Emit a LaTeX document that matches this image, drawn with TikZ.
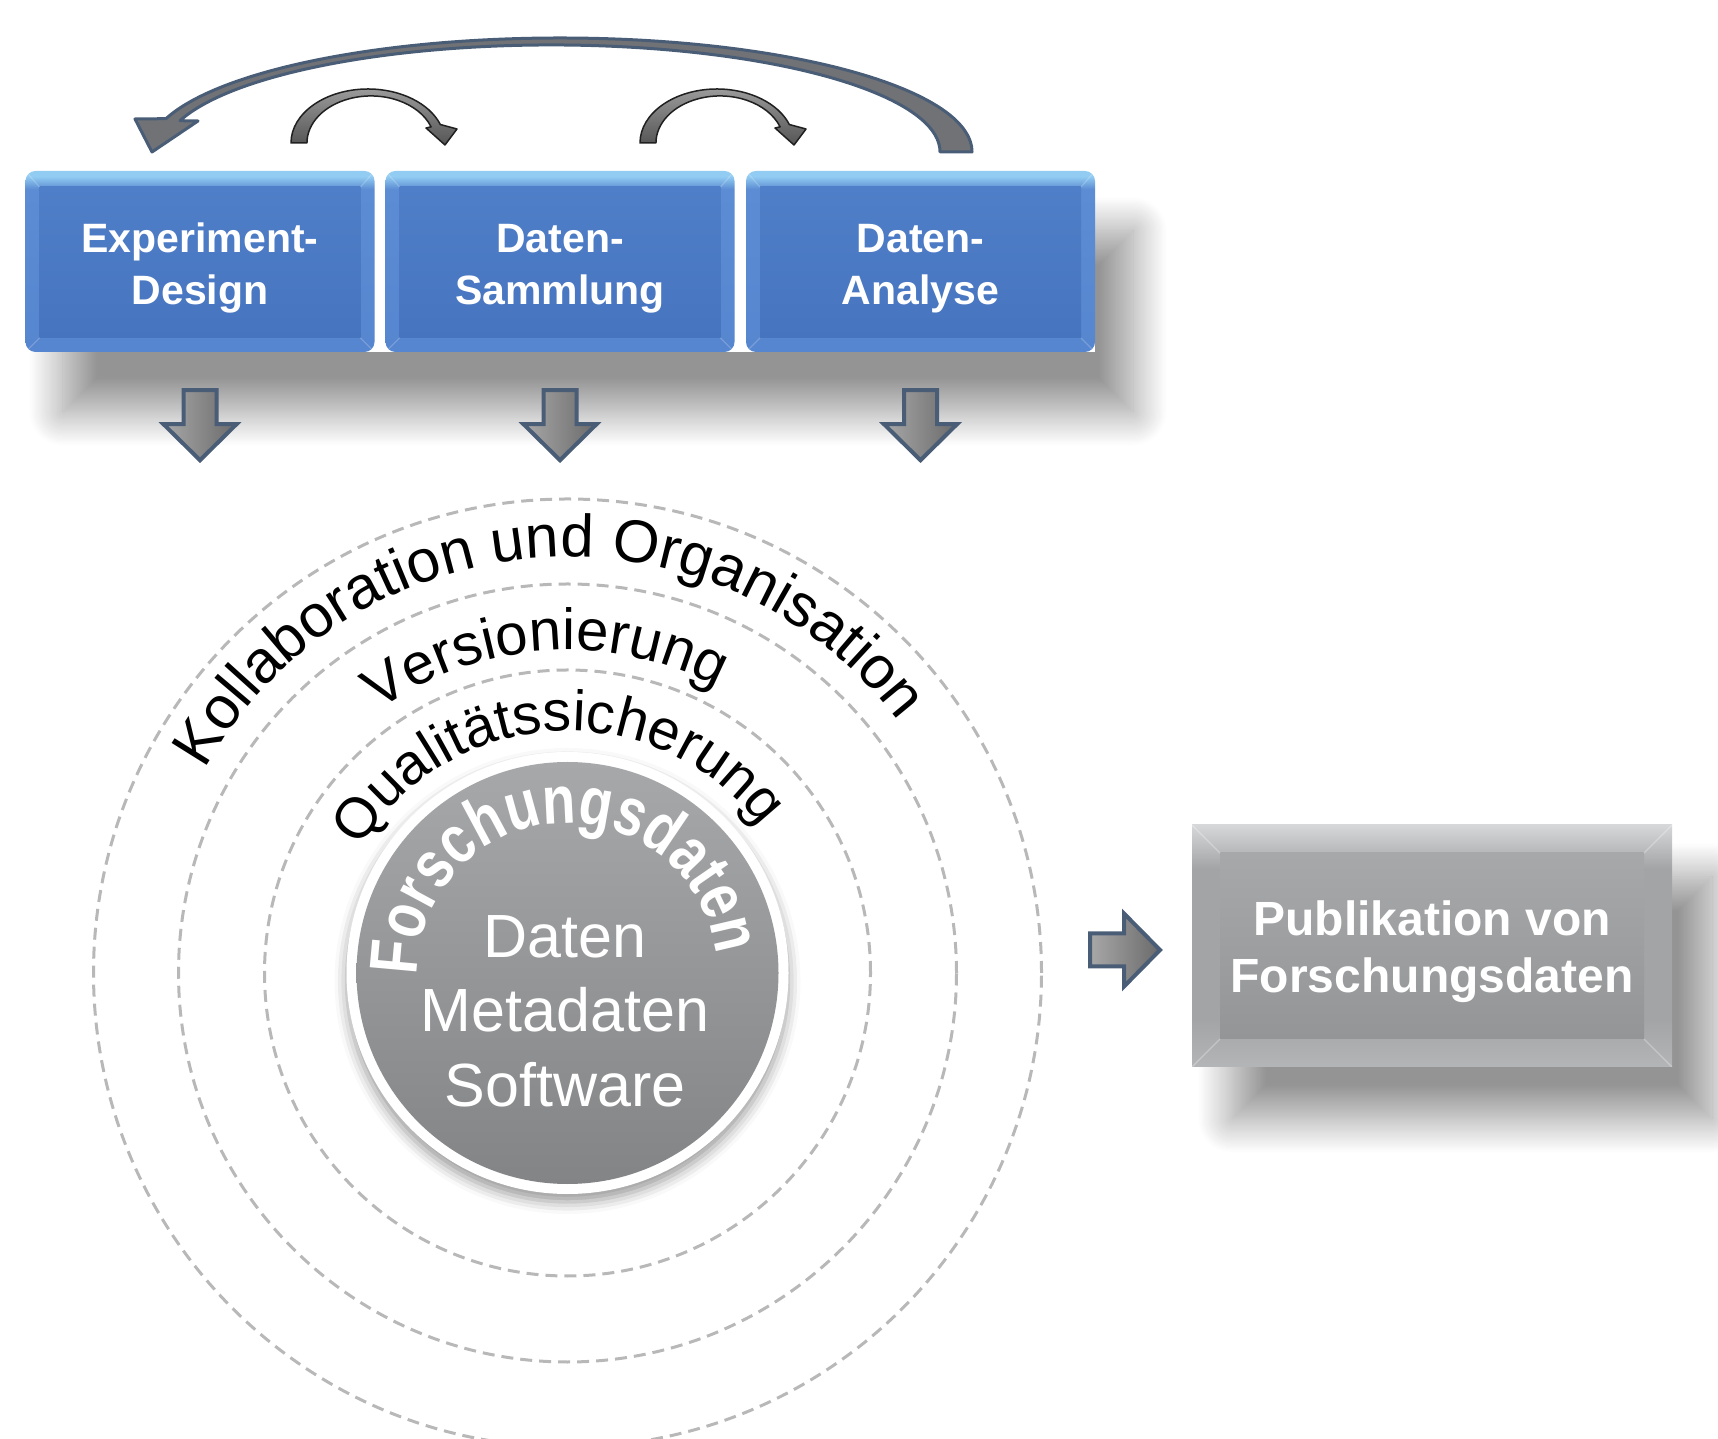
\documentclass[tikz,border=0pt]{standalone}
\usepackage{fontspec}
\setmainfont{Liberation Sans}
\newfontfamily\forfam[FakeStretch=0.8]{Liberation Sans}
\usetikzlibrary{shadows.blur,decorations.text,calc}

\definecolor{slate}{HTML}{4A5D77}
\definecolor{bluelow}{HTML}{5686CF}
\definecolor{bluebev}{HTML}{5C8CD3}
\definecolor{bluehi}{HTML}{92CCF2}
\definecolor{facetop}{HTML}{5080C9}
\definecolor{facebot}{HTML}{4673BE}
\definecolor{greylow}{HTML}{B4B5B7}
\definecolor{greymid}{HTML}{A2A4A6}
\definecolor{greybev}{HTML}{C0C1C3}
\definecolor{greyhi}{HTML}{D6D7D9}
\definecolor{gfacetop}{HTML}{A9ABAD}
\definecolor{gfacebot}{HTML}{909294}
\definecolor{dashgrey}{HTML}{B8B8B8}
\definecolor{disktop}{HTML}{A7A8AA}
\definecolor{diskbot}{HTML}{838486}
\definecolor{arrlight}{HTML}{A8A8A8}
\definecolor{arrdark}{HTML}{6A6A6A}
\definecolor{bigfill}{HTML}{707276}
\definecolor{smalltop}{HTML}{9A9A9A}
\definecolor{smallbot}{HTML}{555555}
\definecolor{smallline}{HTML}{202020}

\pgfdeclareverticalshading{bluebevel}{100bp}{color(0bp)=(bluelow); color(25bp)=(bluelow); color(70bp)=(bluebev); color(73.5bp)=(bluehi); color(75bp)=(bluehi); color(100bp)=(bluehi)}
\pgfdeclareverticalshading{blueface}{100bp}{color(0bp)=(facebot); color(25bp)=(facebot); color(75bp)=(facetop); color(100bp)=(facetop)}
\pgfdeclareverticalshading{greybevel}{100bp}{color(0bp)=(greylow); color(25bp)=(greylow); color(35bp)=(greymid); color(66bp)=(greymid); color(71bp)=(greybev); color(75bp)=(greyhi); color(100bp)=(greyhi)}
\pgfdeclareverticalshading{greyface}{100bp}{color(0bp)=(gfacebot); color(25bp)=(gfacebot); color(75bp)=(gfacetop); color(100bp)=(gfacetop)}

\newcommand\kolfont{\fontsize{60}{64}\selectfont}
\newcommand\verfont{\fontsize{58}{62}\selectfont}
\newcommand\qualfont{\fontsize{57}{61}\selectfont}
\newcommand\forfont{\color{white}\forfam\bfseries\fontsize{68}{72}\selectfont}

\begin{document}
\begin{tikzpicture}[x=1pt,y=1pt,
  bluebox/.style={rectangle, rounded corners=10, minimum width=349, minimum height=181,
    inner sep=0, shade, shading=bluebevel, text=white, align=center,
    font=\bfseries\fontsize{41}{52}\selectfont,
    path picture={
      \shade[shading=blueface, sharp corners]
        ([shift={(14,-16)}]path picture bounding box.north west) rectangle
        ([shift={(-14,14)}]path picture bounding box.south east);
      \foreach \a/\dx/\dy in {north west/14/-16, north east/-14/-16, south west/14/14, south east/-14/14}
        \draw[white, opacity=.2, line width=1.2, sharp corners] (path picture bounding box.\a) -- ++(\dx,\dy);
    }},
  greybox/.style={rectangle, minimum width=480, minimum height=242,
    inner sep=0, shade, shading=greybevel, text=white, align=center,
    font=\bfseries\fontsize{48}{57}\selectfont,
    path picture={
      \shade[shading=greyface]
        ([shift={(28,-28)}]path picture bounding box.north west) rectangle
        ([shift={(-28,28)}]path picture bounding box.south east);
      \foreach \a/\dx/\dy in {north west/28/-28, north east/-28/-28, south west/28/28, south east/-28/28}
        \draw[white, opacity=.3, line width=1.2] (path picture bounding box.\a) -- ++(\dx,\dy);
    }},
  dashcirc/.style={draw=dashgrey, line width=3, dash pattern=on 12pt off 7pt},
  blockarrow/.style={draw=slate, line width=4, line join=miter, left color=arrlight, right color=arrdark},
  bigarr/.style={draw=slate, line width=3, fill=bigfill, line join=round},
  smallarr/.style={draw=smallline, line width=1.5, top color=smalltop, bottom color=smallbot, line join=round},
  downarr/.pic={\path[blockarrow] (-16.5,0) -- (16.5,0) -- (16.5,-34) -- (36.5,-34) -- (0,-70) -- (-36.5,-34) -- (-16.5,-34) -- cycle;},
  smallcurve/.pic={\path[smallarr] (-77,0) arc[start angle=180, end angle=20, x radius=77, y radius=54]
      -- (89,14) -- (77,-2) -- (58,15) -- (63.1,16.1)
      arc[start angle=20, end angle=180, x radius=64, y radius=47] -- cycle;}
]
\useasboundingbox (0,0) rectangle (1718,1438);
\clip (0,0) rectangle (1718,1438);

% ---------- shadow under the row of boxes
\fill[white, blur shadow={shadow xshift=38pt, shadow yshift=-60pt, shadow blur radius=34pt, shadow opacity=42, shadow blur steps=30}]
  (25,1086) rectangle (1095,1267);

% ---------- process boxes
\node[bluebox] (ed) at (200,1176.5) {\rule{0pt}{42pt}Experiment-\\Design};
\node[bluebox] (ds) at (560,1176.5) {\rule{0pt}{42pt}Daten-\\Sammlung};
\node[bluebox] (da) at (920.5,1176.5) {\rule{0pt}{42pt}Daten-\\Analyse};

% ---------- curved arrows above
\path[bigarr] (972,1286) arc[start angle=0, end angle=163, x radius=412, y radius=114]
  -- (135,1319) -- (152,1286) -- (198,1317) -- (180.0,1317.3)
  arc[start angle=163, end angle=0, x radius=388.5, y radius=107] -- cycle;
\pic at (368,1295) {smallcurve};
\pic at (717,1295) {smallcurve};

% ---------- down arrows
\pic at ($(ed.south)+(0,-38)$) {downarr};
\pic at ($(ds.south)+(0,-38)$) {downarr};
\pic at ($(da.south)+(0,-38)$) {downarr};

% ---------- concentric rings
\coordinate (C) at (567.5,465);
\draw[dashcirc] (C) circle[radius=474];
\draw[dashcirc] (C) circle[radius=389];
\draw[dashcirc] (C) circle[radius=303];

% ---------- central disk
\fill[white, blur shadow={shadow xshift=0pt, shadow yshift=-8pt, shadow blur radius=12pt, shadow opacity=40}]
  (C) circle[radius=221];
\shade[top color=disktop, bottom color=diskbot] (C) circle[radius=211];

% ---------- curved texts
\path[decorate, decoration={text along path, text align=center,
  text={|\kolfont|Kollaboration und Organisation}}]
  ($(C)+(194:416)$) arc[start angle=194, end angle=-6, radius=416];
\path[decorate, decoration={text along path, text align=center,
  text={|\verfont|Versionierung}}]
  ($(C)+(194:323)$) arc[start angle=194, end angle=-6, radius=323];
\path[decorate, decoration={text along path, text align=center,
  text={|\qualfont|Qualitätssicherung}}]
  ($(C)+(193:242)$) arc[start angle=193, end angle=-7, radius=242];
\path[decorate, decoration={text along path, text align=center,
  text={|\forfont|Forschungsdaten}}]
  ($(C)+(194:150)$) arc[start angle=194, end angle=-6, radius=150];

\node[font=\fontsize{61}{74.5}\selectfont, text=white, align=center] (inner) at (565,427) {Daten\\Metadaten\\Software};

% ---------- arrow to publication
\pic[rotate=90] at (1090,488) {downarr};

\fill[white, blur shadow={shadow xshift=40pt, shadow yshift=-52pt, shadow blur radius=34pt, shadow opacity=42, shadow blur steps=30}]
  (1192,371) rectangle (1672,613);
\node[greybox] (pub) at (1432,492) {\rule{0pt}{47pt}Publikation von\\Forschungsdaten};
\end{tikzpicture}
\end{document}
